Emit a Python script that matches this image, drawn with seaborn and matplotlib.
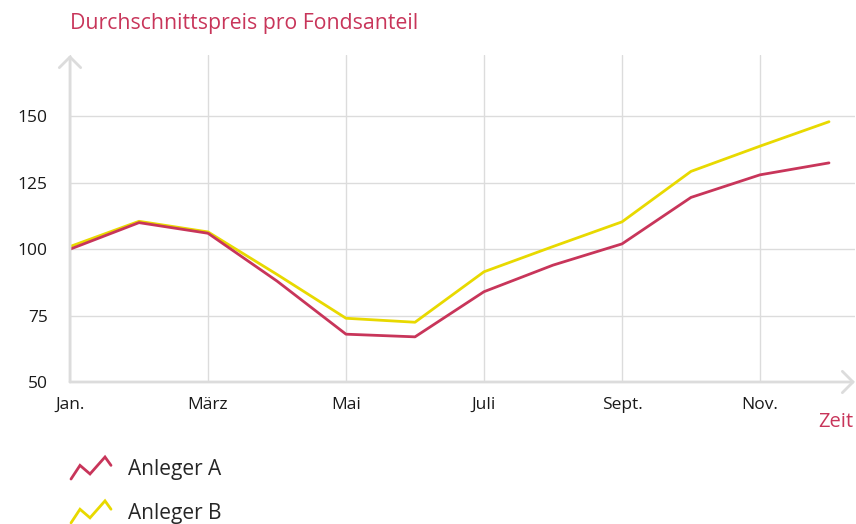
import numpy as np
import pandas as pd
import matplotlib
matplotlib.use('Agg')
import matplotlib.pyplot as plt
import seaborn as sns
from matplotlib.legend_handler import HandlerBase
from matplotlib.lines import Line2D

# 数据
months = ['Jan.', 'Feb.', 'März', 'Apr.', 'Mai', 'Juni', 'Juli', 'Aug.', 'Sept.', 'Okt.', 'Nov.', 'Dez.']
anleger_a = [100, 110, 106, 88, 68, 67, 84, 94, 102, 119.5, 128, 132.5]
anleger_b = [101, 110.5, 106.5, 90.5, 74, 72.5, 91.5, 101, 110.3, 129.3, 138.8, 148]
tick_months = ['Jan.', 'März', 'Mai', 'Juli', 'Sept.', 'Nov.']
y_ticks = [50, 75, 100, 125, 150]
series_names = ['Anleger B', 'Anleger A']

RED = '#c8355a'
YELLOW = '#e8d900'
GRID = '#dcdcdc'
TEXT = '#1a1a1a'

df = pd.DataFrame({
    'Monat': list(range(len(months))) * 2,
    'Preis': anleger_b + anleger_a,
    'Anleger': [series_names[0]] * len(months) + [series_names[1]] * len(months),
})

sns.set_style('white')
plt.rcParams['font.family'] = ['Open Sans', 'DejaVu Sans']

fig = plt.figure(figsize=(8.56, 5.24), dpi=100)
ax = fig.add_axes([70 / 856, 1 - 382 / 524, (855 - 70) / 856, (382 - 55) / 524])

sns.lineplot(data=df, x='Monat', y='Preis', hue='Anleger',
             palette={'Anleger A': RED, 'Anleger B': YELLOW},
             hue_order=series_names, linewidth=2.0, ax=ax, legend=False)

ax.set_xlim(0, (855 - 70) / 69.0)
ax.set_ylim(50, 50 + (382 - 55) / 2.656)

# 刻度与网格
ax.set_xticks([months.index(m) for m in tick_months])
ax.set_xticklabels(tick_months)
ax.set_yticks(y_ticks)
ax.tick_params(axis='both', length=0, labelsize=12.5, colors=TEXT)
ax.tick_params(axis='x', pad=11)
ax.tick_params(axis='y', pad=16)
for lbl in ax.get_yticklabels():
    lbl.set_horizontalalignment('right')
ax.grid(True, color=GRID, linewidth=1.0)
ax.set_xlabel('')
ax.set_ylabel('')
for s in ax.spines.values():
    s.set_visible(False)

# 坐标轴箭头
arrow = dict(arrowstyle='->,head_length=0.55,head_width=0.55', color=GRID, lw=2,
             shrinkA=0, shrinkB=0, mutation_scale=14)
ax.annotate('', xy=(1, 0), xytext=(0, 0), xycoords='axes fraction', arrowprops=arrow)
ax.annotate('', xy=(0, 1), xytext=(0, 0), xycoords='axes fraction', arrowprops=arrow)

# 标题与轴名
fig.text(70 / 856, 1 - 24 / 524, 'Durchschnittspreis pro Fondsanteil', color=RED,
         fontsize=15.3, ha='left', va='center')
fig.text(853 / 856, 1 - 422 / 524, 'Zeit', color=RED, fontsize=14.5, ha='right', va='center')


# 图例：锯齿形图标
class HandlerZigzag(HandlerBase):
    def create_artists(self, legend, orig_handle, xdescent, ydescent, width, height, fontsize, trans):
        xs = np.array([0, 0.225, 0.475, 0.85, 1.0]) * width - xdescent
        ys = np.array([0, 0.62, 0.23, 1.0, 0.62]) * height - ydescent
        line = Line2D(xs, ys, color=orig_handle.get_color(), linewidth=2.0,
                      solid_joinstyle='miter')
        line.set_transform(trans)
        return [line]


handles = [Line2D([], [], color=RED), Line2D([], [], color=YELLOW)]
fig.legend(handles, ['Anleger A', 'Anleger B'], loc='upper left',
           bbox_to_anchor=(71 / 856, 1 - 457 / 524), frameon=False, fontsize=15,
           handler_map={Line2D: HandlerZigzag()}, handlelength=1.92, handleheight=1.25,
           handletextpad=0.82, labelspacing=1.0, borderpad=0, borderaxespad=0)

fig.savefig('out.png', dpi=100)
